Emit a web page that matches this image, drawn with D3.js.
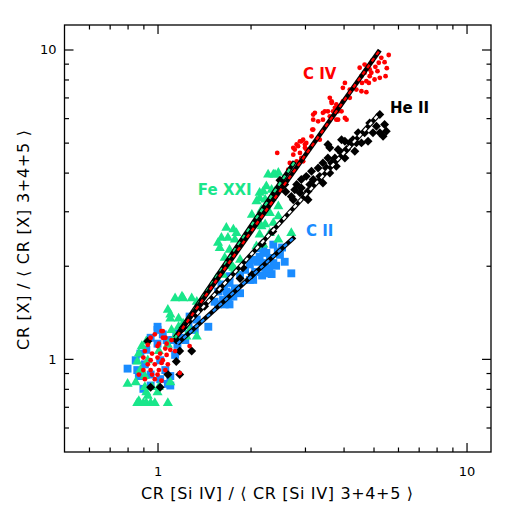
<!DOCTYPE html>
<html>
<head>
<meta charset="utf-8">
<script src="https://cdn.jsdelivr.net/npm/d3@7"></script>
<style>
  body { margin: 0; background: #fff; }
  text { font-family: "DejaVu Sans", sans-serif; }
</style>
</head>
<body>
<script>
// values: [CR(Si IV) ratio, CR(X) ratio]
var civ = [
  [5.30,9.40],[5.43,9.10],[5.20,9.06],[5.07,8.79],[4.68,8.94],[4.51,8.73],[4.86,8.62],[4.68,8.41],[4.92,8.41],[5.15,8.51],
  [5.47,8.20],[5.24,8.10],[5.04,8.00],[4.86,8.20],[4.74,7.90],[4.57,8.20],[4.59,7.80],[4.83,7.80],[4.40,7.42],[4.57,7.33],
  [4.74,7.28],[4.04,7.80],[3.98,7.52],[4.19,7.42],[4.19,6.98],[3.98,6.80],[3.89,6.55],[3.75,6.48],[3.84,6.31],[3.70,6.31],
  [3.61,6.98],[3.66,6.72],[4.04,6.01],[3.48,6.31],[3.61,6.08],[3.43,5.93],[3.79,5.93],[3.23,6.24],[3.19,5.93],[3.31,5.86],
  [3.17,5.51],[3.15,5.24],[2.96,5.11],[2.89,5.05],[3.03,4.99],[2.82,4.93],[3.00,4.81],[2.75,4.81],[3.66,6.80],[3.43,6.24],
  [3.56,6.31],[3.19,6.16],[3.79,6.64],[3.94,6.31],[3.84,5.93],[4.09,5.93],[3.19,5.51],[3.35,5.11],[2.92,5.05],[2.85,4.87],
  [3.00,4.93],[3.03,4.75],[2.78,4.75],[2.89,4.63],[2.44,4.63],[2.75,4.57],[2.92,4.46],[2.82,4.35],[2.96,4.35],[2.68,4.30],
  [2.65,4.09],[5.60,9.60],[5.52,8.70],[4.95,9.20],
  [1.03,1.23],[0.98,1.20],[0.95,1.17],[1.01,1.12],[1.04,1.17],[1.07,1.12],[1.11,1.15],[0.93,1.11],[1.00,1.10],[1.06,1.08],
  [1.10,1.07],[0.91,1.06],[0.96,1.04],[1.02,1.04],[1.07,1.03],[1.14,1.06],[0.90,1.01],[0.95,0.99],[1.00,1.01],[1.04,0.99],
  [0.93,0.96],[0.98,0.96],[1.03,0.97],[1.08,0.96],[0.90,0.92],[0.95,0.92],[1.01,0.92],[1.06,0.92],[0.96,0.89],[1.00,0.89],
  [0.91,0.86],[0.87,0.89],[1.18,0.90],[1.03,0.85],[0.98,0.86],[1.04,1.23],[1.27,1.10],[1.06,1.17]
];

var heii = [
  [5.24,6.16],[5.43,5.72],[5.11,5.65],[4.86,5.79],[4.98,5.38],[5.24,5.38],[4.68,5.38],[4.46,5.38],[4.80,5.05],[4.57,4.99],
  [4.40,4.99],[4.19,4.99],[4.04,5.05],[4.35,4.69],[4.09,4.75],[3.94,4.63],[3.84,4.75],[4.04,4.46],[3.75,4.46],[3.61,4.81],
  [3.56,4.46],[3.66,4.30],[3.43,4.30],[3.79,4.19],[3.31,4.14],[3.52,4.14],[3.35,3.89],[3.15,4.04],[3.19,3.80],[3.03,3.89],
  [2.92,3.80],[3.11,3.66],[2.82,3.66],[2.92,3.57],[2.78,3.52],[3.07,3.48],[2.89,3.44],[2.71,3.35],[3.00,3.35],[2.75,3.27],
  [3.07,3.27],[3.43,3.70],[3.61,3.99],[4.29,5.11],[5.50,5.44],[5.37,5.24],[3.94,5.11],[3.56,4.93],[2.49,3.78],[2.58,3.66],
  [2.60,3.47],[2.02,1.87],[1.89,1.97],[1.85,1.82],[2.36,2.58],[2.18,2.36],[1.59,1.68],[1.42,1.48],
  [1.18,1.06],[1.29,1.06],[1.15,0.98],[1.08,0.89],[1.18,0.89],[1.02,0.81],[1.21,1.26],[0.93,1.14],[1.15,1.15],[0.95,0.81]
];

var fexxi = [
  [2.37,3.94],[2.46,3.99],[2.25,3.61],[2.14,3.44],[2.23,3.27],[2.40,3.48],[2.31,2.96],[2.46,2.89],[2.17,2.68],[2.31,2.55],
  [2.46,2.43],[2.71,2.55],[2.28,3.94],[2.40,3.94],[2.20,3.48],[2.34,3.52],[2.14,3.31],[2.09,3.23],[2.34,3.31],[2.46,3.11],
  [2.17,3.03],[2.02,2.92],[2.09,2.72],[2.23,2.72],[2.37,2.75],[1.67,2.65],[1.76,2.62],[1.61,2.46],[1.69,2.46],[1.78,2.43],
  [1.59,2.28],[1.71,2.25],[1.65,2.12],[1.85,2.09],[1.74,1.99],[1.78,1.94],[1.55,1.82],[1.63,1.87],[1.80,2.55],[1.57,2.37],
  [1.76,1.97],[1.14,1.57],[1.21,1.57],[1.29,1.57],[1.08,1.44],[1.10,1.35],[1.17,1.35],[1.27,1.24],[1.24,1.18],[1.34,1.18],
  [2.14,2.52],[2.20,2.34],[2.09,2.31],[1.34,1.53],[1.20,1.59],[1.10,1.39],[1.21,1.30],
  [1.11,1.24],[0.92,1.14],[0.89,1.10],[0.87,1.04],[0.86,0.98],[0.88,0.92],[0.85,0.84],[0.80,0.83],[0.91,0.81],[0.96,0.81],
  [1.01,0.81],[1.10,0.84],[0.92,0.78],[1.00,0.78],[0.87,0.73],[0.92,0.72],[0.98,0.72],[0.93,0.76],[1.08,0.72],[0.91,0.88],
  [0.93,0.99],[1.01,1.06],[1.08,1.11],[1.14,1.18],[1.17,1.27],[0.86,0.72],[0.90,0.72],[0.95,0.72]
];

var cii = [
  [2.37,2.34],[2.20,2.25],[2.49,2.17],[2.31,2.12],[2.11,2.06],[2.58,2.06],[1.99,2.02],[2.23,1.97],[2.42,2.00],[2.07,1.91],
  [1.92,1.94],[2.18,1.86],[2.34,1.88],[1.99,1.80],[1.85,1.87],[2.53,2.29],[2.71,1.89],[2.04,1.80],[2.25,2.20],[2.20,2.04],
  [2.37,2.04],[2.25,1.89],[2.11,2.28],[2.14,2.14],[2.03,2.09],[2.45,2.22],[2.30,1.96],
  [1.61,1.74],[1.71,1.76],[1.57,1.65],[1.67,1.65],[1.76,1.59],[1.63,1.55],[1.53,1.53],[1.71,1.50],[1.85,1.63],[1.71,1.85],
  [1.78,1.69],[1.69,1.57],[1.65,1.50],[1.57,1.50],[1.64,1.69],[1.74,1.63],
  [1.27,1.37],[1.34,1.34],[1.46,1.27],[1.26,1.29],[1.20,1.26],[1.32,1.24],[1.15,1.21],
  [1.00,1.27],[0.80,0.93],[1.08,0.83],[1.10,0.88],[1.12,1.15],[1.20,1.17],[0.86,0.92],[0.85,0.99],[0.87,0.88],[0.88,1.04],
  [0.92,1.07],[1.00,1.12],[1.07,1.15],[1.00,1.24],[1.10,0.82],[1.02,0.86],[0.95,0.82],[0.90,0.80],[1.06,0.92],[1.02,0.99],
  [0.91,0.96],[0.95,0.89],[1.14,1.03],[1.16,1.11],[1.23,1.15],[1.04,1.20],[0.95,1.17]
];

// fitted relations, end points
var fitCIV = [[1.16,1.19],[5.24,9.95]];
var fitFeXXI = [[1.14,1.17],[2.78,4.34]];
var fitHeII = [[1.14,1.17],[5.20,6.16]];
var fitCII = [[1.16,1.12],[2.78,2.48]];

var majorTicks = [1, 10];
var minorTicks = [0.6, 0.7, 0.8, 0.9, 2, 3, 4, 5, 6, 7, 8, 9];

var red = "#ff0000", green = "#19e68a", blue = "#1a8cff";

var width = 517, height = 517;
var margin = {top: 25, right: 26, bottom: 65, left: 64.5};
var iw = width - margin.left - margin.right;
var ih = height - margin.top - margin.bottom;

var svg = d3.select("body").append("svg").attr("width", width).attr("height", height);
var g = svg.append("g").attr("transform", "translate(" + margin.left + "," + margin.top + ")");

var x = d3.scaleLog().domain([0.5, 12]).range([0, iw]);
var y = d3.scaleLog().domain([0.5, 12]).range([ih, 0]);

var fmt = function(d) { return d3.format("d")(d); };

// ticks, inward on all four sides
function ticks(axis, vals, len, labels) {
  return axis.tickValues(vals).tickSize(-len).tickSizeOuter(0)
    .tickFormat(labels ? fmt : "").tickPadding(labels ? 8 : 0);
}
function styleAxis(sel) {
  sel.select(".domain").remove();
  sel.selectAll("line").attr("stroke", "#000").attr("stroke-width", 1.2);
  sel.selectAll("text").attr("font-size", 13).attr("fill", "#000");
}
g.append("g").attr("transform", "translate(0," + ih + ")").call(ticks(d3.axisBottom(x), majorTicks, 9, true)).call(styleAxis)
  .selectAll("text").attr("dy", "1.25em");
g.append("g").attr("transform", "translate(0," + ih + ")").call(ticks(d3.axisBottom(x), minorTicks, 4.5, false)).call(styleAxis);
g.append("g").call(ticks(d3.axisTop(x), majorTicks, 9, false)).call(styleAxis);
g.append("g").call(ticks(d3.axisTop(x), minorTicks, 4.5, false)).call(styleAxis);
g.append("g").call(ticks(d3.axisLeft(y), majorTicks, 9, true)).call(styleAxis);
g.append("g").call(ticks(d3.axisLeft(y), minorTicks, 4.5, false)).call(styleAxis);
g.append("g").attr("transform", "translate(" + iw + ",0)").call(ticks(d3.axisRight(y), majorTicks, 9, false)).call(styleAxis);
g.append("g").attr("transform", "translate(" + iw + ",0)").call(ticks(d3.axisRight(y), minorTicks, 4.5, false)).call(styleAxis);

// data points
g.append("g").selectAll("path").data(cii).enter().append("path")
  .attr("d", d3.symbol().type(d3.symbolSquare).size(62))
  .attr("transform", function(d) { return "translate(" + x(d[0]) + "," + y(d[1]) + ")"; })
  .attr("fill", blue);

g.append("g").selectAll("path").data(fexxi).enter().append("path")
  .attr("d", d3.symbol().type(d3.symbolTriangle).size(44))
  .attr("transform", function(d) { return "translate(" + x(d[0]) + "," + y(d[1]) + ")"; })
  .attr("fill", green);

g.append("g").selectAll("path").data(heii).enter().append("path")
  .attr("d", d3.symbol().type(d3.symbolSquare).size(40))
  .attr("transform", function(d) { return "translate(" + x(d[0]) + "," + y(d[1]) + ") rotate(45)"; })
  .attr("fill", "#000");

g.append("g").selectAll("circle").data(civ).enter().append("circle")
  .attr("cx", function(d) { return x(d[0]); })
  .attr("cy", function(d) { return y(d[1]); })
  .attr("r", 2.4)
  .attr("fill", red);

// fit lines: black under, coloured dashes on top
var line = d3.line().x(function(d) { return x(d[0]); }).y(function(d) { return y(d[1]); });
var fits = [[fitCII, blue], [fitHeII, "#fff"], [fitFeXXI, green], [fitCIV, red]];
fits.forEach(function(f) {
  g.append("path").attr("d", line(f[0])).attr("stroke", "#000").attr("stroke-width", 4.6).attr("fill", "none");
  g.append("path").attr("d", line(f[0])).attr("stroke", f[1]).attr("stroke-width", 2.4)
    .attr("stroke-dasharray", "4,4").attr("fill", "none");
});

// frame
g.append("rect").attr("width", iw).attr("height", ih)
  .attr("fill", "none").attr("stroke", "#000").attr("stroke-width", 1.3);

// series labels
var labels = [
  {t: "C IV", x: 3.35, y: 8.36, c: red},
  {t: "He II", x: 6.54, y: 6.49, c: "#000"},
  {t: "Fe XXI", x: 1.65, y: 3.52, c: green},
  {t: "C II", x: 3.35, y: 2.60, c: blue}
];
g.selectAll(".lbl").data(labels).enter().append("text")
  .attr("x", function(d) { return x(d.x); })
  .attr("y", function(d) { return y(d.y); })
  .attr("text-anchor", "middle").attr("dy", "0.35em")
  .attr("font-size", 15).attr("font-weight", "bold")
  .attr("fill", function(d) { return d.c; })
  .text(function(d) { return d.t; });

// axis titles
svg.append("text").attr("x", 277).attr("y", 499).attr("text-anchor", "middle")
  .attr("font-size", 16).attr("textLength", 272).attr("lengthAdjust", "spacing")
  .text("CR [Si IV]  /  \u27E8 CR [Si IV] 3+4+5 \u27E9");
svg.append("text").attr("transform", "translate(29,240) rotate(-90)").attr("text-anchor", "middle")
  .attr("font-size", 16).attr("textLength", 220).attr("lengthAdjust", "spacing")
  .text("CR [X]  /  \u27E8 CR [X] 3+4+5 \u27E9");
</script>
</body>
</html>
